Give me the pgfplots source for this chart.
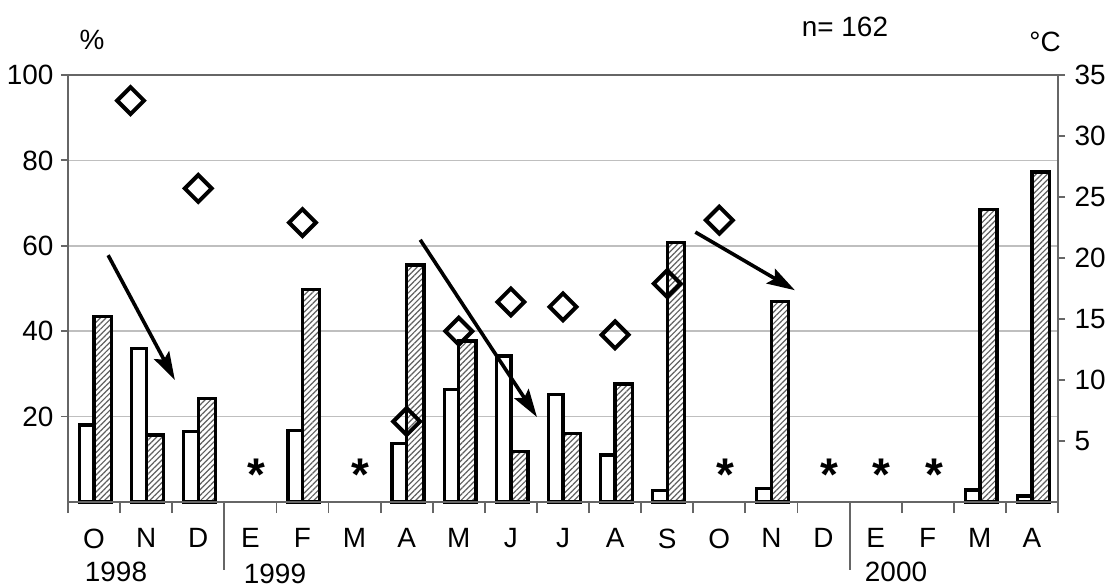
\documentclass[border=0pt]{standalone}
\usepackage{pgfplots}
\pgfplotsset{compat=1.18}
\usepackage{fontspec}
\setmainfont{Liberation Sans}
\usetikzlibrary{arrows.meta,patterns.meta}
\definecolor{gridgray}{gray}{0.75}
\definecolor{framegray}{gray}{0.40}
\newcommand{\lbl}{\fontsize{28}{30}\selectfont}
\begin{document}
\begin{tikzpicture}
\useasboundingbox (-68bp,-86bp) rectangle (1041bp,502bp);
\begin{axis}[
  at={(0,0)}, anchor=south west,
  scale only axis, width=990bp, height=427bp,
  xmin=-0.5, xmax=18.5, ymin=0, ymax=100,
  clip=false,
  axis line style={framegray, line width=2.6bp},
  ytick={20,40,60,80,100},
  ytick pos=left, xtick pos=bottom,
  tick align=outside,
  major tick length=7bp, minor tick length=11bp,
  tick style={framegray, line width=1.8bp},
  xtick={0,...,18},
  xticklabels={O,N,D,E,F,M,A,M,J,J,A,S,O,N,D,E,F,M,A},
  minor xtick={-0.5,0.5,...,18.5},
  every major x tick/.append style={draw=none},
  ymajorgrids, grid style={gridgray, line width=1.6bp},
  /pgf/number format/assume math mode=true,
  tick label style={font=\lbl},
  xticklabel style={yshift=-16bp},
  yticklabel style={xshift=-4bp},
]
\addplot[ybar, bar width=0.28, bar shift=-0.14, fill=white, draw=black, line width=3.3bp]
  coordinates {(0,18) (1,36) (2,16.5) (4,16.8) (6,13.7) (7,26.4) (8,34.2) (9,25.2) (10,11) (11,2.7) (13,3.2) (17,2.8) (18,1.4)};
\addplot[ybar, bar width=0.33, bar shift=0.165, fill=white, draw=black, line width=3.3bp,
  postaction={pattern={Lines[angle=45,distance=4bp,line width=1.2bp]}, pattern color=gray!75!black}]
  coordinates {(0,43.4) (1,15.7) (2,24.3) (4,49.8) (6,55.5) (7,37.7) (8,11.9) (9,16) (10,27.6) (11,60.7) (13,46.9) (17,68.5) (18,77.3)};
\addplot[only marks, mark=text, text mark={\raisebox{-10bp}{\fontsize{46}{46}\selectfont\bfseries *}}]
  coordinates {(3.12,6.3) (5.12,6.3) (12.12,6.3) (14.12,6.3) (15.12,6.3) (16.12,6.3)};
\draw[framegray, line width=2.6bp] (axis cs:-0.5,0) -- (axis cs:18.5,0);
\draw[framegray, line width=2bp] (axis cs:2.5,0) -- ([yshift=-68bp]axis cs:2.5,0);
\draw[framegray, line width=2bp] (axis cs:14.5,0) -- ([yshift=-68bp]axis cs:14.5,0);
\draw[line width=3.6bp, -{Stealth[length=28bp,width=17bp,inset=5bp]}] (axis cs:0.27,57.8) -- (axis cs:1.55,28.6);
\draw[line width=3.6bp, -{Stealth[length=28bp,width=17bp,inset=5bp]}] (axis cs:6.26,61.4) -- (axis cs:8.5,19.9);
\draw[line width=3.6bp, -{Stealth[length=28bp,width=17bp,inset=5bp]}] (axis cs:11.54,63.2) -- (axis cs:13.45,49.6);
\end{axis}
\begin{axis}[
  at={(0,0)}, anchor=south west,
  scale only axis, width=990bp, height=427bp,
  xmin=-0.5, xmax=18.5, ymin=0, ymax=35,
  clip=false,
  axis x line=none, axis y line*=right,
  axis line style={framegray, line width=2.6bp},
  ytick={5,10,...,35},
  tick align=outside, major tick length=7bp,
  tick style={framegray, line width=1.8bp},
  /pgf/number format/assume math mode=true,
  tick label style={font=\lbl},
  yticklabel style={xshift=6bp},
]
\addplot[only marks, mark=square, mark size=9.5bp, line width=4bp, draw=black, fill=white,
  every mark/.append style={rotate=45}]
  coordinates {(0.7,32.9) (2,25.7) (4,22.9) (6,6.6) (7,14) (8,16.4) (9,16) (10,13.7) (11,17.9) (12,23.1)};
\end{axis}
\node[font=\lbl] at (24bp,462bp) {\%};
\node[font=\lbl] at (777bp,475bp) {n= 162};
\node[font=\lbl] at (977bp,460bp) {°C};
\node[font=\lbl, inner sep=0pt] at (48bp,-70bp) {1998};
\node[font=\lbl, inner sep=0pt] at (207bp,-72bp) {1999};
\node[font=\lbl, inner sep=0pt] at (828bp,-70bp) {2000};
\end{tikzpicture}
\end{document}
